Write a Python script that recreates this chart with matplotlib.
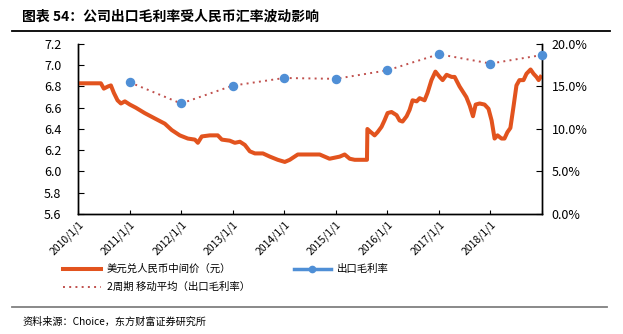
import matplotlib
matplotlib.use('Agg')
import matplotlib.pyplot as plt
import matplotlib.dates as mdates
from matplotlib.lines import Line2D
from matplotlib.ticker import FuncFormatter
import pandas as pd

plt.rcParams['font.family'] = ['Noto Sans CJK SC', 'DejaVu Sans']
plt.rcParams['axes.unicode_minus'] = False

# USD/CNY central parity (yuan)
fx_dates = [
    '2010-01-01', '2010-06-12', '2010-07-03', '2010-08-01', '2010-08-22', '2010-09-12',
    '2010-10-08', '2010-11-01', '2010-11-29', '2011-01-03', '2011-02-15', '2011-04-18',
    '2011-06-28', '2011-09-08', '2011-10-27', '2011-12-23', '2012-02-18', '2012-04-08',
    '2012-04-29', '2012-05-27', '2012-07-23', '2012-09-17', '2012-10-16', '2012-12-11',
    '2013-01-16', '2013-02-21', '2013-03-28', '2013-05-02', '2013-06-07', '2013-08-03',
    '2013-09-21', '2013-11-16', '2014-01-05', '2014-02-09', '2014-04-07', '2014-05-26',
    '2014-07-01', '2014-09-09', '2014-11-18', '2015-01-29', '2015-03-05', '2015-04-10',
    '2015-05-15', '2015-08-10', '2015-08-13', '2015-08-29', '2015-10-03', '2015-10-24',
    '2015-11-21', '2015-12-12', '2016-01-03', '2016-01-31', '2016-03-07', '2016-03-28',
    '2016-04-18', '2016-05-17', '2016-06-07', '2016-06-28', '2016-07-27', '2016-08-17',
    '2016-09-21', '2016-10-12', '2016-11-09', '2016-12-07', '2017-01-06', '2017-01-27',
    '2017-02-24', '2017-04-01', '2017-04-22', '2017-05-27', '2017-07-14', '2017-08-07',
    '2017-08-30', '2017-09-18', '2017-10-16', '2017-11-20', '2017-12-18', '2018-01-09',
    '2018-01-30', '2018-02-20', '2018-03-20', '2018-04-10', '2018-05-01', '2018-05-22',
    '2018-06-13', '2018-07-04', '2018-07-25', '2018-08-23', '2018-09-13', '2018-10-12',
    '2018-11-02', '2018-11-23', '2018-12-08', '2018-12-22',
]
fx_values = [
    6.83, 6.83, 6.78, 6.80, 6.81, 6.74,
    6.67, 6.64, 6.66, 6.63, 6.60, 6.55,
    6.50, 6.45, 6.39, 6.34, 6.31, 6.30,
    6.27, 6.33, 6.34, 6.34, 6.30, 6.29,
    6.27, 6.28, 6.25, 6.19, 6.17, 6.17,
    6.14, 6.11, 6.09, 6.11, 6.16, 6.16,
    6.16, 6.16, 6.12, 6.14, 6.16, 6.12,
    6.11, 6.11, 6.40, 6.38, 6.34, 6.37,
    6.42, 6.48, 6.55, 6.56, 6.53, 6.48,
    6.47, 6.52, 6.58, 6.67, 6.66, 6.69,
    6.67, 6.74, 6.86, 6.94, 6.89, 6.86,
    6.91, 6.89, 6.89, 6.80, 6.70, 6.62,
    6.52, 6.63, 6.64, 6.63, 6.59, 6.48,
    6.31, 6.34, 6.31, 6.31, 6.37, 6.41,
    6.61, 6.81, 6.86, 6.86, 6.92, 6.96,
    6.92, 6.89, 6.86, 6.89,
]

# export gross margin (%)
gm_dates = ['2011-01-01', '2012-01-01', '2013-01-01', '2014-01-01', '2015-01-01',
            '2016-01-01', '2017-01-01', '2018-01-01', '2019-01-01']
gm_values = [15.5, 13.0, 15.1, 16.0, 15.9, 16.9, 18.8, 17.7, 18.7]

year_ticks = ['2010-01-01', '2011-01-01', '2012-01-01', '2013-01-01', '2014-01-01',
              '2015-01-01', '2016-01-01', '2017-01-01', '2018-01-01']
year_labels = ['2010/1/1', '2011/1/1', '2012/1/1', '2013/1/1', '2014/1/1',
               '2015/1/1', '2016/1/1', '2017/1/1', '2018/1/1']

fx_x = pd.to_datetime(fx_dates)
gm_x = pd.to_datetime(gm_dates)

orange = '#E2531E'
blue = '#4F8FD6'
red_dot = '#C0504D'

fig = plt.figure(figsize=(6.23, 3.34), dpi=100)
ax = fig.add_axes([0.1252, 0.3593, 0.7448, 0.509])
ax2 = ax.twinx()

ax.plot(fx_x, fx_values, color=orange, lw=2.9, solid_joinstyle='round', zorder=3)
ax2.plot(gm_x, gm_values, color=red_dot, lw=1.4, ls=(0, (1, 2.2)), zorder=2)
ax2.plot(gm_x, gm_values, color=blue, lw=0, marker='o', markersize=5.8,
         clip_on=False, zorder=4)

ax.set_xlim(pd.Timestamp('2010-01-01'), pd.Timestamp('2019-01-01'))
ax.set_ylim(5.6, 7.2)
ax.set_yticks([5.6, 5.8, 6.0, 6.2, 6.4, 6.6, 6.8, 7.0, 7.2])
ax.yaxis.set_major_formatter(FuncFormatter(lambda v, p: f'{v:.1f}'))
ax2.set_ylim(0, 20)
ax2.set_yticks([0, 5, 10, 15, 20])
ax2.yaxis.set_major_formatter(FuncFormatter(lambda v, p: f'{v:.1f}%'))

ticks = list(pd.to_datetime(year_ticks)) + [pd.Timestamp('2019-01-01')]
ax.set_xticks(ticks)
ax.set_xticklabels(year_labels + [''], rotation=45, ha='right',
                   rotation_mode='anchor', fontsize=7.5)

for a in (ax, ax2):
    a.spines['top'].set_visible(False)
    for s in a.spines.values():
        s.set_linewidth(1.0)
ax.tick_params(axis='y', direction='in', length=4, pad=12, labelsize=9)
ax.tick_params(axis='x', direction='in', length=3, pad=4)
ax2.tick_params(axis='y', direction='in', length=4, pad=7, labelsize=9)

# title, rules and source note
fig.text(22 / 623, 1 - 17 / 334, '图表 54：公司出口毛利率受人民币汇率波动影响',
         fontsize=10, fontweight='bold', va='center', ha='left')
fig.add_artist(Line2D([12 / 623, 610 / 623], [1 - 31 / 334] * 2,
                      color='black', lw=1.3, transform=fig.transFigure))
fig.add_artist(Line2D([12 / 623, 607 / 623], [1 - 307 / 334] * 2,
                      color='#808080', lw=1.3, transform=fig.transFigure))
fig.text(22 / 623, 1 - 322 / 334, '资料来源：Choice，东方财富证券研究所',
         fontsize=7.3, va='center', ha='left')

handles = [
    Line2D([], [], color=orange, lw=2.9),
    Line2D([], [], color=red_dot, lw=1.4, ls=(0, (1, 2.2))),
    Line2D([], [], color=blue, lw=2.5, marker='o', markersize=4.5),
]
labels = ['美元兑人民币中间价（元）', '2周期 移动平均（出口毛利率）', '出口毛利率']
fig.legend(handles, labels, loc='upper left',
           bbox_to_anchor=(63 / 623, 1 - 264 / 334), ncol=2, frameon=False,
           fontsize=7.5, handlelength=3.6, handletextpad=0.6,
           columnspacing=4.2, borderpad=0, borderaxespad=0, labelspacing=0.75)

fig.savefig('out.png', dpi=100)
